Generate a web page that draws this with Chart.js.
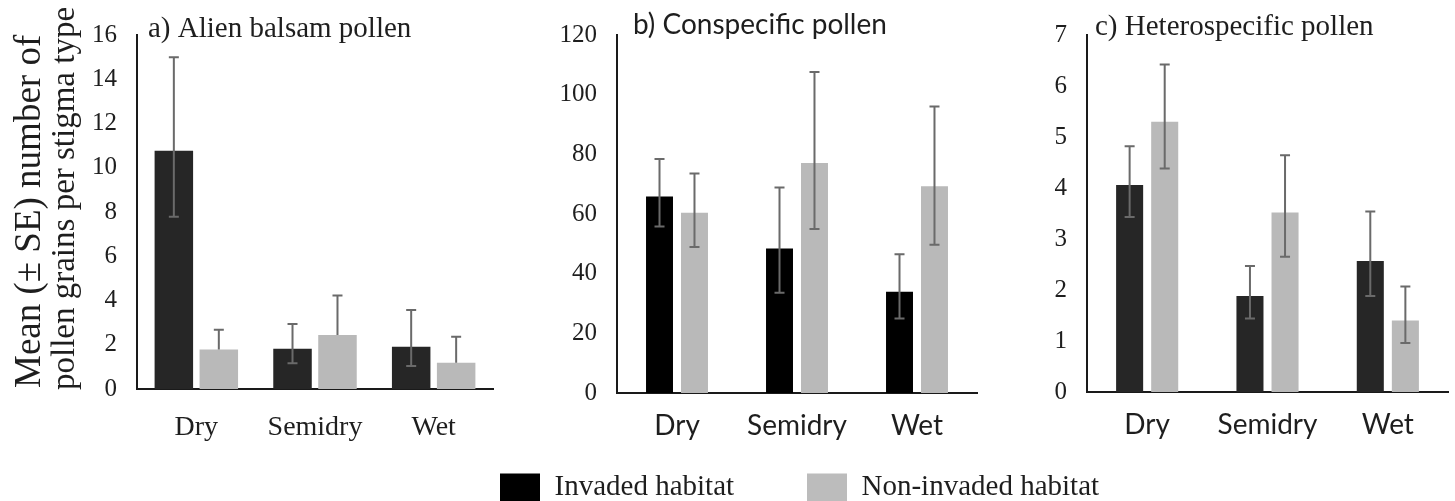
<!DOCTYPE html>
<html><head><meta charset="utf-8">
<script src="https://cdn.jsdelivr.net/npm/chart.js@4.4.1/dist/chart.umd.min.js"></script>
<style>
html,body{margin:0;padding:0;background:#fff;width:1455px;height:501px;overflow:hidden;}
.box{position:absolute;}
</style></head><body>
<div class="box" style="left:0;top:0;width:500px;height:460px"><canvas id="ca" width="500" height="460"></canvas></div>
<div class="box" style="left:500px;top:0;width:480px;height:460px"><canvas id="cb" width="480" height="460"></canvas></div>
<div class="box" style="left:980px;top:0;width:475px;height:460px"><canvas id="cc" width="475" height="460"></canvas></div>
<div class="box" style="left:490px;top:463px;width:300px;height:38px;overflow:hidden"><canvas id="cl1" width="300" height="80"></canvas></div>
<div class="box" style="left:797px;top:463px;width:340px;height:38px;overflow:hidden"><canvas id="cl2" width="340" height="80"></canvas></div>
<script>
// ---- data ----
const categories = ['Dry', 'Semidry', 'Wet'];
const seriesNames = ['Invaded habitat', 'Non-invaded habitat'];

// a) Alien balsam pollen
const alienInvaded = [10.77, 1.82, 1.91];
const alienInvadedHigh = [14.99, 2.94, 3.57];
const alienInvadedLow = [7.79, 1.16, 1.04];
const alienNonInvaded = [1.79, 2.44, 1.19];
const alienNonInvadedHigh = [2.68, 4.23, 2.36];
const alienNonInvadedLow = [null, null, null];

// b) Conspecific pollen
const conInvaded = [65.9, 48.4, 33.9];
const conInvadedHigh = [78.4, 68.9, 46.5];
const conInvadedLow = [55.8, 33.6, 25.0];
const conNonInvaded = [60.4, 77.1, 69.3];
const conNonInvadedHigh = [73.6, 107.6, 96.0];
const conNonInvadedLow = [48.9, 55.0, 49.7];

// c) Heterospecific pollen
const hetInvaded = [4.06, 1.88, 2.57];
const hetInvadedHigh = [4.82, 2.47, 3.54];
const hetInvadedLow = [3.43, 1.44, 1.88];
const hetNonInvaded = [5.30, 3.52, 1.40];
const hetNonInvadedHigh = [6.42, 4.64, 2.07];
const hetNonInvadedLow = [4.38, 2.65, 0.96];

// tick settings
const alienTicks = {min: 0, max: 16, step: 2};
const conTicks = {min: 0, max: 120, step: 20};
const hetTicks = {min: 0, max: 7, step: 1};

const titles = ['a) Alien balsam pollen', 'b) Conspecific pollen', 'c) Heterospecific pollen'];
const yTitleLines = ['Mean (\u00B1 SE) number of', 'pollen grains per stigma type'];

// ---- styles ----
const SERIF = "'Liberation Serif', 'Times New Roman', serif";
const SANS = "Lato, 'Open Sans', sans-serif";
const TEXT = '#1e1e1e';
const GREY = '#b9b9b9';

const errorBarPlugin = {
  id: 'errorBars',
  afterDatasetsDraw(chart, args, o) {
    const ctx = chart.ctx, yS = chart.scales.y;
    chart.data.datasets.forEach((ds, di) => {
      if (!ds.errHigh) return;
      const meta = chart.getDatasetMeta(di);
      meta.data.forEach((bar, i) => {
        const x = bar.x;
        const yHi = yS.getPixelForValue(ds.errHigh[i]);
        const lv = ds.errLow[i];
        const yLo = lv == null ? bar.y : yS.getPixelForValue(lv);
        ctx.save();
        ctx.strokeStyle = o.color; ctx.lineWidth = o.width;
        ctx.beginPath();
        ctx.moveTo(x, yHi); ctx.lineTo(x, yLo);
        ctx.moveTo(x - o.cap, yHi); ctx.lineTo(x + o.cap, yHi);
        if (lv != null) { ctx.moveTo(x - o.cap, yLo); ctx.lineTo(x + o.cap, yLo); }
        ctx.stroke();
        ctx.restore();
      });
    });
  }
};

const panelTitlePlugin = {
  id: 'panelTitle',
  afterDraw(chart, args, o) {
    if (!o.text) return;
    const ctx = chart.ctx;
    ctx.save();
    ctx.font = o.font; ctx.fillStyle = TEXT;
    ctx.textAlign = 'left'; ctx.textBaseline = 'alphabetic';
    ctx.fillText(o.text, o.x, o.y);
    ctx.restore();
  }
};

const yTitlePlugin = {
  id: 'yTitle',
  afterDraw(chart, args, o) {
    if (!o.lines) return;
    const ctx = chart.ctx;
    o.lines.forEach((line, i) => {
      ctx.save();
      ctx.translate(o.x[i], o.y[i]);
      ctx.rotate(-Math.PI / 2);
      ctx.font = o.fonts[i]; ctx.fillStyle = TEXT;
      ctx.textAlign = 'left'; ctx.textBaseline = 'alphabetic';
      ctx.fillText(line, 0, 0);
      ctx.restore();
    });
  }
};

function makePanel(id, cfg) {
  return new Chart(document.getElementById(id), {
    type: 'bar',
    data: {
      labels: categories,
      datasets: [
        {label: seriesNames[0], data: cfg.inv, errHigh: cfg.invHi, errLow: cfg.invLo,
         backgroundColor: cfg.invColor, borderWidth: 0,
         categoryPercentage: cfg.catPct, barPercentage: cfg.barPct},
        {label: seriesNames[1], data: cfg.non, errHigh: cfg.nonHi, errLow: cfg.nonLo,
         backgroundColor: GREY, borderWidth: 0,
         categoryPercentage: cfg.catPct, barPercentage: cfg.barPct}
      ]
    },
    plugins: [errorBarPlugin, panelTitlePlugin, yTitlePlugin],
    options: {
      responsive: false, animation: false, devicePixelRatio: 1,
      layout: {padding: {top: cfg.top, right: cfg.right, left: 0, bottom: 0}},
      plugins: {
        legend: {display: false}, tooltip: {enabled: false},
        errorBars: {color: '#6a6a6a', width: 2, cap: cfg.cap},
        panelTitle: cfg.title,
        yTitle: cfg.yTitle || {}
      },
      scales: {
        x: {
          grid: {display: false, drawTicks: false},
          border: {display: true, color: '#1a1a1a', width: 2},
          ticks: {font: {family: cfg.xFont, size: 28}, color: TEXT, padding: cfg.xPad, maxRotation: 0},
          afterFit(s) { s.height = cfg.xH; }
        },
        y: {
          min: cfg.ticks.min, max: cfg.ticks.max,
          grid: {display: false, drawTicks: false},
          border: {display: true, color: '#1a1a1a', width: 2},
          ticks: {stepSize: cfg.ticks.step, font: {family: SERIF, size: 25}, color: TEXT, padding: 20},
          afterFit(s) { s.width = cfg.yW; }
        }
      }
    }
  });
}

makePanel('ca', {
  inv: alienInvaded, invHi: alienInvadedHigh, invLo: alienInvadedLow,
  non: alienNonInvaded, nonHi: alienNonInvadedHigh, nonLo: alienNonInvadedLow,
  invColor: '#262626', catPct: 0.758, barPct: 0.856, cap: 5,
  top: 35, right: 7, yW: 137, xH: 71, xPad: 22, xFont: SERIF, ticks: alienTicks,
  title: {text: titles[0], font: '29px ' + SERIF, x: 148, y: 37},
  yTitle: {lines: yTitleLines, fonts: ['37px ' + SERIF, '33px ' + SERIF], x: [40, 74], y: [388, 390]}
});

makePanel('cb', {
  inv: conInvaded, invHi: conInvadedHigh, invLo: conInvadedLow,
  non: conNonInvaded, nonHi: conNonInvadedHigh, nonLo: conNonInvadedLow,
  invColor: '#000000', catPct: 0.583, barPct: 0.771, cap: 5,
  top: 34, right: 3, yW: 117, xH: 67, xPad: 16, xFont: SANS, ticks: conTicks,
  title: {text: titles[1], font: '28px ' + SANS, x: 133, y: 34}
});

makePanel('cc', {
  inv: hetInvaded, invHi: hetInvadedHigh, invLo: hetInvadedLow,
  non: hetNonInvaded, nonHi: hetNonInvadedHigh, nonLo: hetNonInvadedLow,
  invColor: '#262626', catPct: 0.583, barPct: 0.771, cap: 5,
  top: 33, right: 7, yW: 107, xH: 68, xPad: 16, xFont: SANS, ticks: hetTicks,
  title: {text: titles[2], font: '29px ' + SERIF, x: 115, y: 35}
});

// legend-only charts, one item each
function makeLegend(id, label, color) {
  return new Chart(document.getElementById(id), {
    type: 'bar',
    data: {labels: [], datasets: [{label: label, data: [], backgroundColor: color, borderWidth: 0}]},
    options: {
      responsive: false, animation: false, devicePixelRatio: 1,
      layout: {padding: 0},
      plugins: {
        tooltip: {enabled: false},
        legend: {display: true, position: 'top', align: 'start', maxHeight: 80,
          labels: {boxWidth: 40, boxHeight: 28, padding: 10, color: TEXT,
                   font: {family: SERIF, size: 29}}}
      },
      scales: {x: {display: false}, y: {display: false}}
    }
  });
}
makeLegend('cl1', seriesNames[0], '#000000');
makeLegend('cl2', seriesNames[1], '#bcbcbc');
</script>
</body></html>
